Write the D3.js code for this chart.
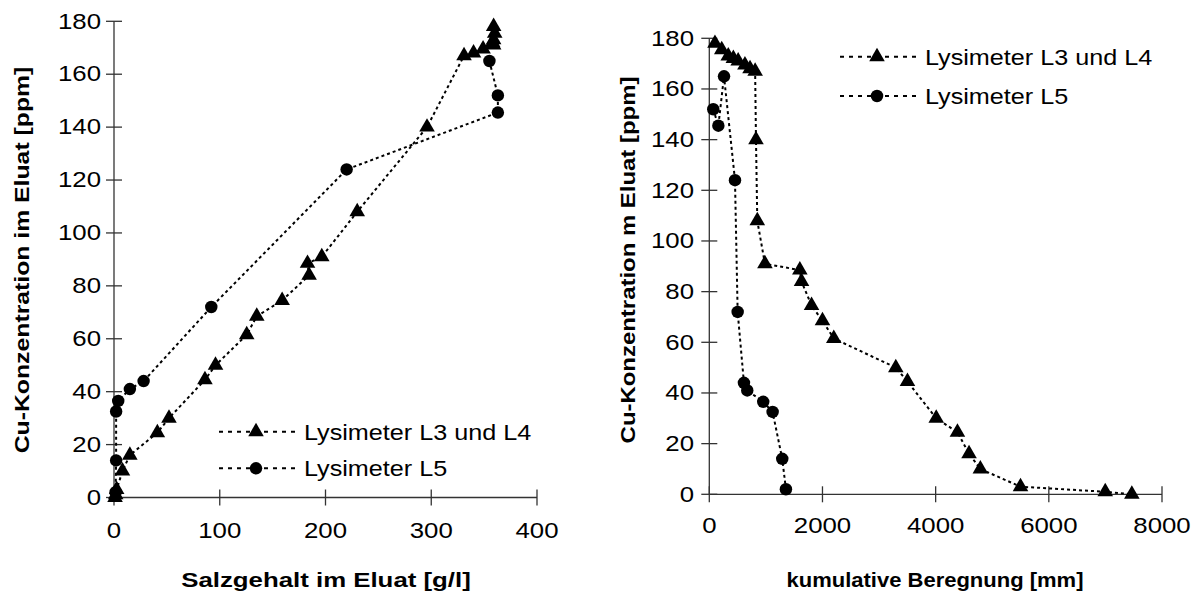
<!DOCTYPE html>
<html>
<head>
<meta charset="utf-8">
<script src="https://cdn.jsdelivr.net/npm/d3@7"></script>
<style>
  html, body { margin: 0; padding: 0; background: #fff; }
  svg { display: block; }
  text { font-family: "Liberation Sans", Arial, sans-serif; fill: #000; }
</style>
</head>
<body>
<svg id="chart" width="1204" height="598"></svg>
<script>
// Lysimeter L3 und L4 — samples in sampling order
const cuL34   = [178, 175.5, 173, 172, 171, 169.5, 168, 167, 140, 108, 91, 88.5, 84, 74.5, 68.5, 61.5, 50, 44.5, 30, 24.5, 16, 10, 3, 1, 0];
const saltL34 = [359, 360, 359, 358, 359, 349, 340, 331, 296, 230, 196.5, 183, 184.5, 159, 135, 125.5, 96, 86, 52, 41, 15, 8, 2.5, 1.6, 1];
const rainL34 = [100, 220, 335, 425, 510, 630, 720, 810, 825, 848, 983, 1600, 1630, 1807, 2000, 2200, 3296, 3502, 4010, 4385, 4590, 4790, 5500, 6997, 7467];

// Lysimeter L5 — samples in sampling order
const cuL5   = [152, 145.5, 165, 124, 72, 44, 41, 36.5, 32.5, 14, 2];
const saltL5 = [363, 363, 355, 220, 92, 28, 15, 4, 2, 2, 1.5];
const rainL5 = [70, 160, 260, 454, 501, 612, 671, 953, 1119, 1289, 1354];

// Axis ticks and labels
const cuTicks   = [0, 20, 40, 60, 80, 100, 120, 140, 160, 180];
const saltTicks = [0, 100, 200, 300, 400];
const rainTicks = [0, 2000, 4000, 6000, 8000];

const seriesNames = ["Lysimeter L3 und L4", "Lysimeter L5"];
const titles = {
  leftY: "Cu-Konzentration im Eluat [ppm]",
  leftX: "Salzgehalt im Eluat [g/l]",
  rightY: "Cu-Konzentration m Eluat [ppm]",
  rightX: "kumulative Beregnung [mm]"
};

const svg = d3.select("#chart");
const SX = 1.2; // horizontal widening of the lettering

function label(g, x, y, txt, opts = {}) {
  const t = g.append("text")
    .attr("transform", `translate(${x},${y}) ${opts.rotate ? "rotate(-90)" : ""} scale(${opts.sx || SX},1)`)
    .attr("text-anchor", opts.anchor || "middle")
    .attr("dominant-baseline", "central")
    .style("font-size", (opts.size || 21) + "px")
    .text(txt);
  if (opts.bold) t.style("font-weight", "bold");
  return t;
}

const triangle = d3.symbol().type(d3.symbolTriangle).size(105);
const circle = d3.symbol().type(d3.symbolCircle).size(122);

function drawMarkers(g, pts, x, y, sym) {
  g.selectAll(null).data(pts).join("path")
    .attr("d", sym)
    .attr("transform", d => `translate(${x(d[0])},${y(d[1])})`)
    .attr("fill", "#000");
}

function drawSeries(g, pts, x, y, sym) {
  const line = d3.line().x(d => x(d[0])).y(d => y(d[1]));
  g.append("path").datum(pts)
    .attr("d", line)
    .attr("fill", "none")
    .attr("stroke", "#000")
    .attr("stroke-width", 2)
    .attr("stroke-dasharray", "3,3");
  drawMarkers(g, pts, x, y, sym);
}

function drawAxes(g, x, y, xTicks, yTicks, yLabelX, xLabelY) {
  const [x0, x1] = x.range();
  const [y0, y1] = y.range();
  const ax = g.append("g").attr("stroke", "#333").attr("stroke-width", 1.3);
  ax.append("line").attr("x1", x0).attr("x2", x0).attr("y1", y0).attr("y2", y1);
  ax.append("line").attr("x1", x0).attr("x2", x1).attr("y1", y0).attr("y2", y0);
  yTicks.forEach(v => {
    ax.append("line").attr("x1", x0 - 8).attr("x2", x0 + 8).attr("y1", y(v)).attr("y2", y(v));
    label(g, yLabelX, y(v), String(v), { anchor: "end", size: 21.5 });
  });
  xTicks.forEach(v => {
    ax.append("line").attr("x1", x(v)).attr("x2", x(v)).attr("y1", y0 - 8).attr("y2", y0 + 8);
    label(g, x(v), xLabelY, String(v), { size: 21.5 });
  });
}

function drawLegend(g, x0, x1, textX, rows) {
  rows.forEach(r => {
    g.append("line")
      .attr("x1", x0).attr("x2", x1).attr("y1", r.y).attr("y2", r.y)
      .attr("stroke", "#000").attr("stroke-width", 2).attr("stroke-dasharray", "4,5");
    g.append("path").attr("d", r.sym)
      .attr("transform", `translate(${(x0 + x1) / 2 - 2},${r.y})`).attr("fill", "#000");
    label(g, textX, r.y, r.name, { anchor: "start", size: 22.5, sx: 1.12 });
  });
}

// ---- Left panel: Cu vs. salt content ----
{
  const g = svg.append("g");
  const x = d3.scaleLinear().domain([0, 400]).range([114, 537]);
  const y = d3.scaleLinear().domain([0, 180]).range([497.5, 21.3]);
  drawAxes(g, x, y, saltTicks, cuTicks, 101, 531);

  // points joined in order of decreasing concentration
  const ptsA = d3.zip(saltL34, cuL34).sort((a, b) => b[1] - a[1]);
  const ptsB = d3.zip(saltL5, cuL5).sort((a, b) => b[1] - a[1]);
  drawSeries(g, ptsB, x, y, circle);
  drawSeries(g, ptsA, x, y, triangle);

  drawLegend(g, 219, 297, 304, [
    { y: 431.7, sym: triangle(), name: seriesNames[0] },
    { y: 468.3, sym: circle(), name: seriesNames[1] }
  ]);

  label(g, 22, 260, titles.leftY, { rotate: true, bold: true, size: 21, sx: 1.18 });
  label(g, 326, 580, titles.leftX, { bold: true, size: 20, sx: 1.29 });
}

// ---- Right panel: Cu vs. cumulative irrigation ----
{
  const g = svg.append("g");
  const x = d3.scaleLinear().domain([0, 8000]).range([709.3, 1162]);
  const y = d3.scaleLinear().domain([0, 180]).range([494.3, 38.3]);
  drawAxes(g, x, y, rainTicks, cuTicks, 694, 526);

  const ptsA = d3.zip(rainL34, cuL34);
  const ptsB = d3.zip(rainL5, cuL5);
  drawSeries(g, ptsB, x, y, circle);
  drawSeries(g, ptsA, x, y, triangle);

  drawLegend(g, 840, 918, 925, [
    { y: 56.7, sym: triangle(), name: seriesNames[0] },
    { y: 96, sym: circle(), name: seriesNames[1] }
  ]);

  label(g, 628, 260, titles.rightY, { rotate: true, bold: true, size: 21, sx: 1.14 });
  label(g, 935, 580, titles.rightX, { bold: true, size: 20, sx: 1.1 });
}
</script>
</body>
</html>
